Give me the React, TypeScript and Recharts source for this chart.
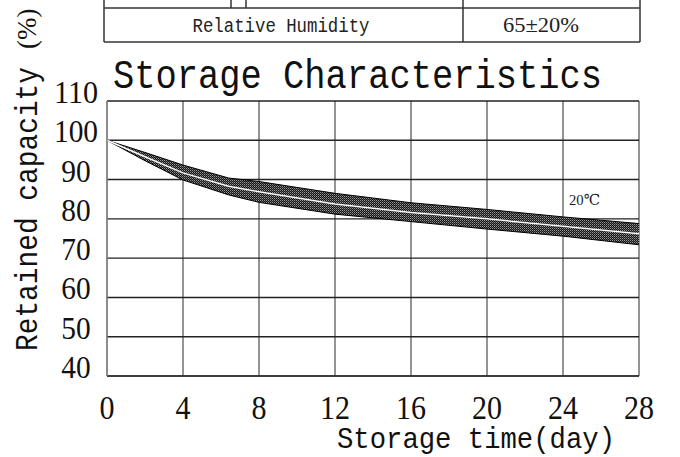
import React from 'react';
import { ComposedChart, Area, Line, XAxis, YAxis, CartesianGrid } from 'recharts';

// storage time (day) and retained capacity (%)
const days = [0, 2, 4, 6.4, 8, 12, 16, 20, 24, 28];
const upperEdge = [100, 96.9, 93.7, 90.4, 89.5, 86.5, 84.1, 82.4, 80.5, 78.8];
const middleLine = [100, 95.8, 91.7, 88.3, 86.9, 83.8, 81.6, 80.0, 78.1, 76.2];
const lowerEdge = [100, 94.8, 89.9, 86.1, 84.2, 81.2, 79.3, 77.4, 75.6, 73.4];

const xTicks = [0, 4, 8, 12, 16, 20, 24, 28];
const yTicks = [40, 50, 60, 70, 80, 90, 100, 110];

const data = days.map((day, i) => ({
  day,
  upperBand: [middleLine[i], upperEdge[i]],
  lowerBand: [lowerEdge[i], middleLine[i]],
  middle: middleLine[i],
}));

const mono = '"Liberation Mono", "DejaVu Sans Mono", monospace';
const serif = '"Liberation Serif", "DejaVu Serif", serif';

const XTick = ({ x, y, payload }: any) => {
  const s = String(payload.value);
  return (
    <text x={x} y={y + 43} textAnchor="middle" fontFamily={serif} fontSize={33} fill="#111"
      textLength={s.length * 15} lengthAdjust="spacingAndGlyphs">
      {s}
    </text>
  );
};

const YTick = ({ x, y, payload }: any) => {
  const s = String(payload.value);
  return (
    <text x={x - 31} y={y + 2} textAnchor="middle" fontFamily={serif} fontSize={32} fill="#111"
      textLength={s.length * 14.7} lengthAdjust="spacingAndGlyphs">
      {s}
    </text>
  );
};

export default function App() {
  return (
    <div style={{ position: 'absolute', left: 0, top: 0, width: 680, height: 457, background: '#fff' }}>
      <ComposedChart
        width={680}
        height={457}
        data={data}
        margin={{ top: 101, right: 41, bottom: 31, left: 47 }}
      >
        <defs>
          <pattern id="stipple" width="2" height="2" patternUnits="userSpaceOnUse">
            <rect width="2" height="2" fill="#151515" />
            <rect x="0" y="0" width="1" height="1" fill="#9a9a9a" />
            <rect x="1" y="1" width="1" height="1" fill="#5a5a5a" />
          </pattern>
        </defs>
        <CartesianGrid horizontal={false} stroke="#666" strokeWidth={1.4} />
        <CartesianGrid vertical={false} stroke="#222" strokeWidth={1.4} />
        <XAxis
          type="number"
          dataKey="day"
          domain={[0, 28]}
          ticks={xTicks}
          height={50}
          tickSize={0}
          tickMargin={0}
          tickLine={false}
          axisLine={{ stroke: '#333', strokeWidth: 1.4 }}
          tick={<XTick />}
          interval={0}
        />
        <YAxis
          type="number"
          domain={[40, 110]}
          ticks={yTicks}
          width={60}
          tickSize={0}
          tickMargin={0}
          tickLine={false}
          axisLine={{ stroke: '#888', strokeWidth: 1.4 }}
          tick={<YTick />}
          interval={0}
        />
        <Area
          type="linear"
          dataKey="upperBand"
          stroke="#000"
          strokeWidth={1}
          fill="url(#stipple)"
          fillOpacity={1}
          isAnimationActive={false}
        />
        <Area
          type="linear"
          dataKey="lowerBand"
          stroke="#000"
          strokeWidth={1}
          fill="url(#stipple)"
          fillOpacity={1}
          isAnimationActive={false}
        />
        <Line
          type="linear"
          dataKey="middle"
          stroke="#fff"
          strokeWidth={1.5}
          dot={false}
          isAnimationActive={false}
        />
      </ComposedChart>

      <svg width={680} height={457} style={{ position: 'absolute', left: 0, top: 0, pointerEvents: 'none' }}>
        {/* condition table at the top */}
        <g stroke="#333" strokeWidth={1.5} fill="none">
          <line x1={104} y1={8} x2={640} y2={8} />
          <line x1={104} y1={42} x2={640} y2={42} />
          <line x1={104} y1={0} x2={104} y2={42} />
          <line x1={640} y1={0} x2={640} y2={42} />
          <line x1={463} y1={0} x2={463} y2={42} />
          <line x1={231} y1={0} x2={231} y2={8} />
          <line x1={246} y1={0} x2={246} y2={8} />
        </g>
        <text x={281} y={32} textAnchor="middle" fontFamily={mono} fontSize={20} fill="#222"
          textLength={177} lengthAdjust="spacingAndGlyphs">
          Relative Humidity
        </text>
        <text x={541} y={32} textAnchor="middle" fontFamily={serif} fontSize={20} fill="#222"
          textLength={76} lengthAdjust="spacingAndGlyphs">
          65±20%
        </text>

        <text x={113} y={88} fontFamily={mono} fontSize={40} fill="#111"
          textLength={489} lengthAdjust="spacingAndGlyphs">
          Storage Characteristics
        </text>

        <text x={337} y={448} fontFamily={mono} fontSize={30} fill="#111"
          textLength={278} lengthAdjust="spacingAndGlyphs">
          Storage time(day)
        </text>

        <text transform="translate(37,351) rotate(-90)" x={0} y={0} fontFamily={mono} fontSize={32} fill="#111"
          textLength={284} lengthAdjust="spacingAndGlyphs">
          Retained capacity
        </text>
        <text transform="translate(36,49) rotate(-90)" x={0} y={0} fontFamily={serif} fontSize={27} fill="#111">
          (%)
        </text>

        <text x={569} y={205} fontFamily={serif} fontSize={15} fill="#222"
          textLength={31} lengthAdjust="spacingAndGlyphs">
          20℃
        </text>
      </svg>
    </div>
  );
}
